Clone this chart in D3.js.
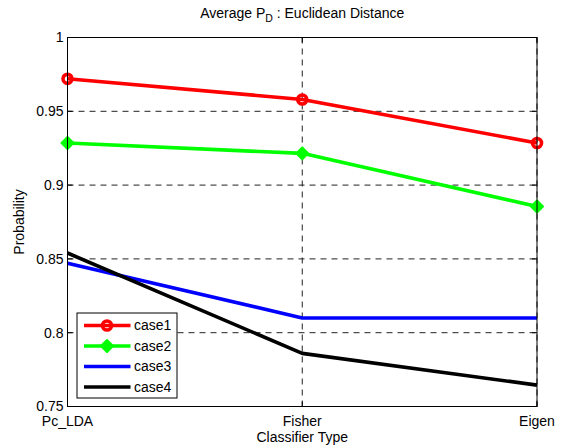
<!DOCTYPE html>
<html>
<head>
<meta charset="utf-8">
<script src="https://cdn.jsdelivr.net/npm/d3@7"></script>
<style>
  body { margin: 0; background: #fff; }
  svg { display: block; font-family: "Liberation Sans", Arial, Helvetica, sans-serif; }
  .grid line { stroke: #222; stroke-width: 1; stroke-dasharray: 6,5; }
</style>
</head>
<body>
<svg id="chart" width="563" height="448"></svg>
<script>
  const W = 563, H = 448;
  const M = { left: 67.5, right: 537, top: 37.5, bottom: 406.5 };

  const categories = ['Pc_LDA', 'Fisher', 'Eigen'];
  const yTicks = [0.75, 0.8, 0.85, 0.9, 0.95, 1];
  const case1 = [0.972, 0.958, 0.9285];
  const case2 = [0.9285, 0.9215, 0.8855];
  const case3 = [0.847, 0.810, 0.810];
  const case4 = [0.854, 0.786, 0.7645];

  const series = [
    { name: 'case1', values: case1, color: '#ff0000', marker: 'circle' },
    { name: 'case2', values: case2, color: '#00ff00', marker: 'diamond' },
    { name: 'case3', values: case3, color: '#0000ff', marker: null },
    { name: 'case4', values: case4, color: '#000000', marker: null }
  ];

  const svg = d3.select('#chart');

  const x = d3.scalePoint().domain(categories).range([M.left, M.right]);
  const y = d3.scaleLinear().domain([0.75, 1]).range([M.bottom, M.top]);

  // grid
  const grid = svg.append('g').attr('class', 'grid');
  grid.selectAll('line.h').data(yTicks.slice(1)).join('line')
    .attr('x1', M.left).attr('x2', M.right)
    .attr('y1', d => y(d)).attr('y2', d => y(d));
  grid.selectAll('line.v').data(categories.slice(1)).join('line')
    .attr('x1', d => x(d)).attr('x2', d => x(d))
    .attr('y1', M.top).attr('y2', M.bottom);

  // lines
  const LW_LINE = 3.6;
  const line = d3.line().x((d, i) => x(categories[i])).y(d => y(d));
  series.forEach(s => {
    svg.append('path')
      .attr('d', line(s.values))
      .attr('fill', 'none')
      .attr('stroke', s.color)
      .attr('stroke-width', LW_LINE)
      .attr('stroke-linejoin', 'round');
  });

  function drawMarker(g, type, cx, cy, color) {
    if (type === 'circle') {
      g.append('circle').attr('cx', cx).attr('cy', cy).attr('r', 4.5)
        .attr('fill', 'none').attr('stroke', color).attr('stroke-width', LW_LINE);
    } else if (type === 'diamond') {
      const r = 6;
      g.append('path')
        .attr('d', `M${cx},${cy - r}L${cx + r},${cy}L${cx},${cy + r}L${cx - r},${cy}Z`)
        .attr('fill', color).attr('stroke', color).attr('stroke-width', 2)
        .attr('stroke-linejoin', 'round');
    }
  }

  series.forEach(s => {
    if (!s.marker) return;
    const g = svg.append('g');
    s.values.forEach((v, i) => drawMarker(g, s.marker, x(categories[i]), y(v), s.color));
  });

  // axes box
  svg.append('rect')
    .attr('x', M.left).attr('y', M.top)
    .attr('width', M.right - M.left).attr('height', M.bottom - M.top)
    .attr('fill', 'none').attr('stroke', '#000').attr('stroke-width', 1);

  // ticks (inside)
  const TL = 5;
  const ticks = svg.append('g').attr('stroke', '#000').attr('stroke-width', 1);
  yTicks.forEach(t => {
    ticks.append('line').attr('x1', M.left).attr('x2', M.left + TL).attr('y1', y(t)).attr('y2', y(t));
    ticks.append('line').attr('x1', M.right).attr('x2', M.right - TL).attr('y1', y(t)).attr('y2', y(t));
  });
  categories.forEach(c => {
    ticks.append('line').attr('x1', x(c)).attr('x2', x(c)).attr('y1', M.bottom).attr('y2', M.bottom - TL);
    ticks.append('line').attr('x1', x(c)).attr('x2', x(c)).attr('y1', M.top).attr('y2', M.top + TL);
  });

  // tick labels
  const FS = 14;
  svg.append('g').selectAll('text').data(yTicks).join('text')
    .attr('x', M.left - 4).attr('y', d => y(d))
    .attr('dy', '0.35em')
    .attr('text-anchor', 'end')
    .attr('font-size', FS)
    .text(d => d3.format('')(d));
  svg.append('g').selectAll('text').data(categories).join('text')
    .attr('x', d => x(d)).attr('y', M.bottom + 15)
    .attr('dy', '0.35em')
    .attr('text-anchor', 'middle')
    .attr('font-size', FS)
    .text(d => d);

  // axis labels
  svg.append('text')
    .attr('x', (M.left + M.right) / 2).attr('y', 442)
    .attr('text-anchor', 'middle').attr('font-size', FS)
    .text('Classifier Type');
  svg.append('text')
    .attr('transform', `translate(24,${(M.top + M.bottom) / 2}) rotate(-90)`)
    .attr('text-anchor', 'middle').attr('font-size', FS)
    .text('Probability');

  // title
  const title = svg.append('text')
    .attr('x', (M.left + M.right) / 2).attr('y', 18)
    .attr('text-anchor', 'middle').attr('font-size', FS);
  title.append('tspan').text('Average P');
  title.append('tspan').attr('dy', 4).attr('font-size', FS * 0.75).text('D');
  title.append('tspan').attr('dy', -4).text(' : Euclidean Distance');

  // legend
  const LX = 77, LY = 313, LW = 100, LH = 85;
  const legend = svg.append('g');
  legend.append('rect')
    .attr('x', LX).attr('y', LY).attr('width', LW).attr('height', LH)
    .attr('fill', '#fff').attr('stroke', '#000').attr('stroke-width', 1);
  series.forEach((s, i) => {
    const ly = LY + 12.5 + i * 20.5;
    legend.append('line')
      .attr('x1', LX + 7).attr('x2', LX + 53.5).attr('y1', ly).attr('y2', ly)
      .attr('stroke', s.color).attr('stroke-width', LW_LINE);
    if (s.marker) drawMarker(legend, s.marker, LX + 30, ly, s.color);
    legend.append('text')
      .attr('x', LX + 57).attr('y', ly).attr('dy', '0.35em')
      .attr('font-size', FS).text(s.name);
  });
</script>
</body>
</html>
